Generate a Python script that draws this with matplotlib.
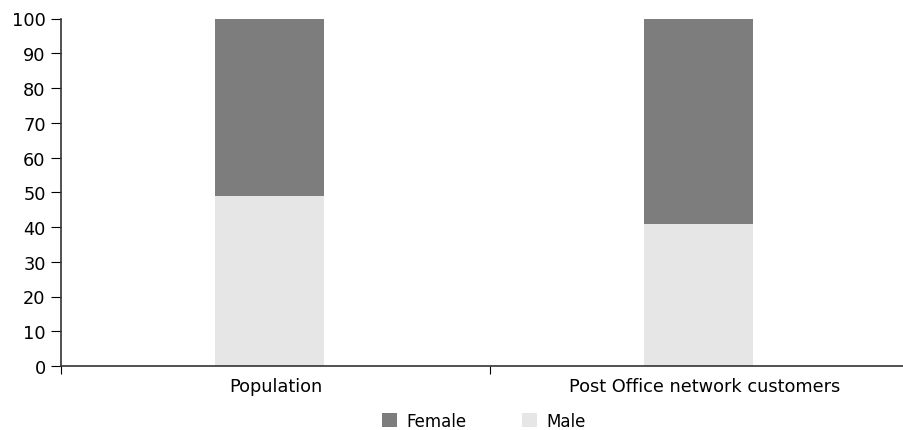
import matplotlib
matplotlib.use("Agg")
import matplotlib.pyplot as plt
import numpy as np

categories = ["Population", "Post Office network customers"]
male = [49, 41]
female = [51, 59]

plt.rcParams['font.family'] = ['DejaVu Sans']
plt.rcParams['font.size'] = 12.8

fig = plt.figure(figsize=(9.04, 4.31), dpi=100)
ax = fig.add_axes([61/904, 1-367/431, 858/904, (367-19.5)/431])

x = np.arange(len(categories)) + 0.5
w = 0.254
shift = -0.014  # bars sit a touch left of the band centre in the original
ax.bar(x + shift, male, w, color='#e6e6e6', label='Male')
ax.bar(x + shift, female, w, bottom=male, color='#7d7d7d', label='Female')

ax.set_xlim(0, 2)
ax.set_ylim(0, 100)
ax.set_yticks(range(0, 101, 10))
ax.set_xticks([0, 1, 2])
ax.set_xticklabels([])
ax.set_xticks(x, minor=True)
ax.set_xticklabels(categories, minor=True)
ax.tick_params(axis='x', which='minor', length=0, pad=8)
ax.tick_params(axis='x', which='major', length=6, direction='out')
ax.tick_params(axis='y', length=7, direction='out', pad=4)

for s in ['top', 'right']:
    ax.spines[s].set_visible(False)
for s in ['left', 'bottom']:
    ax.spines[s].set_color('#333333')
    ax.spines[s].set_linewidth(1.2)

handles, labels = ax.get_legend_handles_labels()
fig.legend(handles[::-1], labels[::-1], loc='center', bbox_to_anchor=(484/904, 1-422/431),
           ncol=2, frameon=False, handlelength=0.9, handleheight=0.9,
           columnspacing=3.3, handletextpad=0.6, fontsize=12,
           borderpad=0.2)

fig.savefig("out.png", dpi=100)
